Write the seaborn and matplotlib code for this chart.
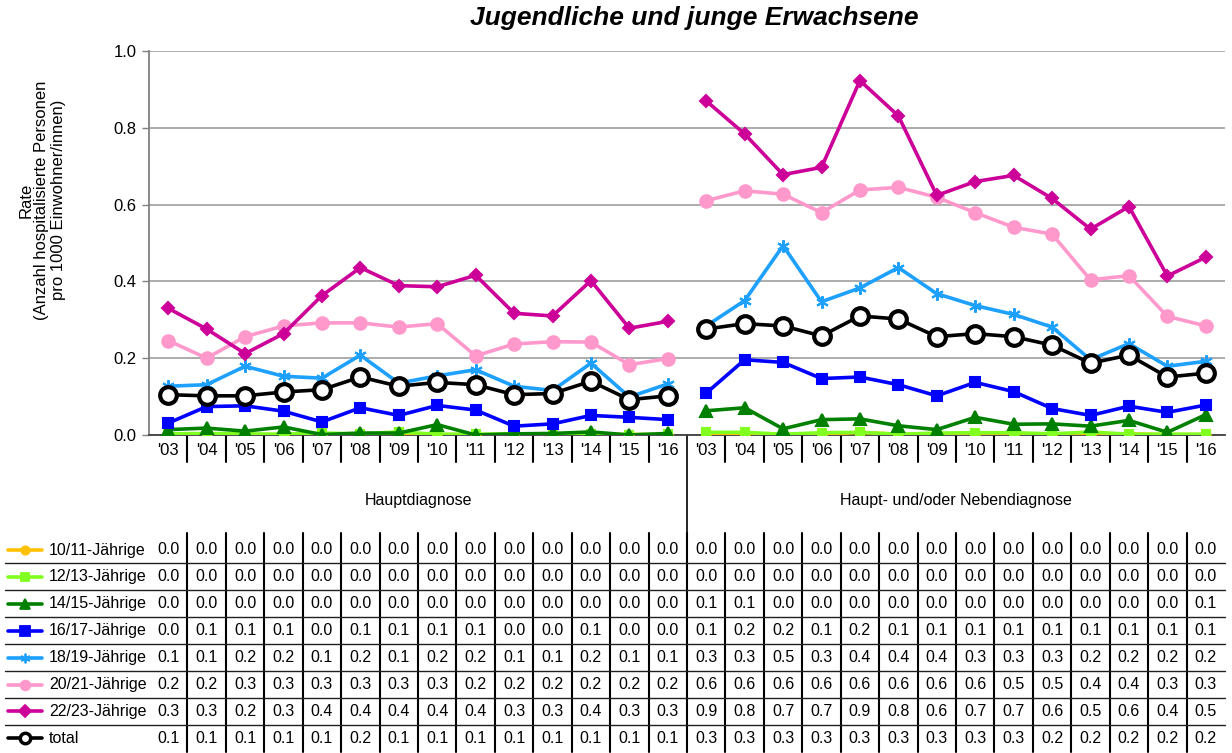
import numpy as np
import pandas as pd
import seaborn as sns
import matplotlib.pyplot as plt
from matplotlib import transforms
from matplotlib.lines import Line2D

# -------------------------
# Data
# -------------------------
years = ["'03", "'04", "'05", "'06", "'07", "'08", "'09", "'10", "'11", "'12", "'13", "'14", "'15", "'16"]
groups = ["Hauptdiagnose", "Haupt- und/oder Nebendiagnose"]
series = ["10/11-Jährige", "12/13-Jährige", "14/15-Jährige", "16/17-Jährige",
          "18/19-Jährige", "20/21-Jährige", "22/23-Jährige", "total"]

# first 14 values: Hauptdiagnose, last 14: Haupt- und/oder Nebendiagnose
age_10_11 = [0.001, 0.002, 0.001, 0.001, 0.002, 0.002, 0.001, 0.001, 0.001, 0.001, 0.001, 0.001, 0.001, 0.001,
             0.003, 0.002, 0.001, 0.001, 0.007, 0.002, 0.001, 0.002, 0.002, 0.002, 0.001, 0.003, 0.001, 0.001]
age_12_13 = [0.003, 0.004, 0.003, 0.002, 0.005, 0.003, 0.008, 0.002, 0.002, 0.003, 0.002, 0.003, 0.001, 0.002,
             0.007, 0.007, 0.002, 0.006, 0.007, 0.002, 0.005, 0.006, 0.006, 0.003, 0.008, 0.002, 0.002, 0.002]
age_14_15 = [0.014, 0.018, 0.010, 0.021, 0.001, 0.005, 0.005, 0.027, 0.000, 0.003, 0.004, 0.008, 0.000, 0.004,
             0.063, 0.071, 0.016, 0.040, 0.042, 0.024, 0.014, 0.046, 0.028, 0.029, 0.023, 0.038, 0.007, 0.053]
age_16_17 = [0.031, 0.074, 0.076, 0.062, 0.034, 0.071, 0.051, 0.077, 0.065, 0.023, 0.029, 0.051, 0.046, 0.040,
             0.109, 0.196, 0.189, 0.147, 0.151, 0.131, 0.102, 0.137, 0.113, 0.069, 0.051, 0.075, 0.059, 0.078]
age_18_19 = [0.127, 0.131, 0.179, 0.153, 0.148, 0.208, 0.135, 0.154, 0.170, 0.127, 0.116, 0.187, 0.099, 0.133,
             0.284, 0.350, 0.493, 0.347, 0.383, 0.436, 0.368, 0.337, 0.314, 0.281, 0.196, 0.238, 0.179, 0.192]
age_20_21 = [0.246, 0.200, 0.256, 0.284, 0.292, 0.292, 0.281, 0.290, 0.206, 0.237, 0.243, 0.242, 0.183, 0.199,
             0.610, 0.636, 0.627, 0.579, 0.638, 0.645, 0.619, 0.579, 0.541, 0.523, 0.404, 0.415, 0.309, 0.284]
age_22_23 = [0.330, 0.276, 0.212, 0.264, 0.363, 0.436, 0.389, 0.386, 0.416, 0.317, 0.310, 0.402, 0.278, 0.296,
             0.870, 0.784, 0.678, 0.697, 0.923, 0.831, 0.624, 0.660, 0.676, 0.616, 0.536, 0.595, 0.414, 0.463]
total = [0.105, 0.102, 0.102, 0.112, 0.118, 0.151, 0.127, 0.137, 0.131, 0.105, 0.108, 0.140, 0.092, 0.102,
         0.276, 0.290, 0.284, 0.258, 0.310, 0.302, 0.256, 0.264, 0.256, 0.234, 0.187, 0.208, 0.151, 0.161]

all_values = [age_10_11, age_12_13, age_14_15, age_16_17, age_18_19, age_20_21, age_22_23, total]

# styles per series
colors = ["#FFC000", "#80FF20", "#008000", "#0000FF", "#1EA0FF", "#FF99CC", "#CC0099", "#000000"]
markers = ["o", "s", "^", "s", (6, 2, 0), "o", "D", "o"]
msizes = [6, 6, 8, 6.5, 9, 9, 6.5, 12]

# long table
rows = []
for name, vals in zip(series, all_values):
    for i, v in enumerate(vals):
        rows.append({"serie": name, "pos": i, "gruppe": groups[i // len(years)], "rate": v})
df = pd.DataFrame(rows)

# -------------------------
# Figure
# -------------------------
sns.set_theme(style="white")
plt.rcParams['font.family'] = ['Liberation Sans', 'DejaVu Sans']
plt.rcParams['text.color'] = 'black'
plt.rcParams['xtick.color'] = 'black'
plt.rcParams['ytick.color'] = 'black'

FS = 11.5  # body font size

W, H = 1232, 753
fig = plt.figure(figsize=(W / 100, H / 100), dpi=100)
ax = fig.add_axes([149 / W, 1 - 435 / H, 1076 / W, 384 / H])

for k, name in enumerate(series):
    for g in groups:
        sub = df[(df["serie"] == name) & (df["gruppe"] == g)]
        if name == "total":
            sns.lineplot(data=sub, x="pos", y="rate", ax=ax, color="black", lw=2.6,
                         marker="o", markersize=msizes[k], markerfacecolor="white",
                         markeredgecolor="black", markeredgewidth=3, zorder=10 + k)
        else:
            sns.lineplot(data=sub, x="pos", y="rate", ax=ax, color=colors[k], lw=2.6,
                         marker=markers[k], markersize=msizes[k], markerfacecolor=colors[k],
                         markeredgecolor=colors[k], markeredgewidth=1.5, zorder=10 + k)

n = len(years) * len(groups)
ax.set_xlim(-0.5, n - 0.5)
ax.set_ylim(0, 1.0)
ax.set_yticks(np.arange(0, 1.01, 0.2))
ax.set_yticklabels([f"{t:.1f}" for t in np.arange(0, 1.01, 0.2)], fontsize=FS + 0.5)
ax.set_xticks(range(n))
ax.set_xticklabels(years * len(groups), fontsize=FS + 0.5)
ax.tick_params(axis="x", length=0, pad=6, colors="black")
ax.tick_params(axis="y", length=5, color="#808080", labelcolor="black", width=1, pad=4, left=True)
ax.yaxis.grid(True, color="#A6A6A6", lw=1.3)
ax.set_axisbelow(True)
ax.set_xlabel("")
ax.set_ylabel("")
for s in ["top", "right"]:
    ax.spines[s].set_visible(False)
ax.spines["left"].set_color("#808080")
ax.spines["bottom"].set_color("#404040")
ax.spines["left"].set_linewidth(1.3)
ax.spines["bottom"].set_linewidth(1.3)

# category separators below the axis
tr_ax = transforms.blended_transform_factory(ax.transData, ax.transAxes)
tr_fig = transforms.blended_transform_factory(ax.transData, fig.transFigure)
for i in range(n - 1):
    if (i + 1) % len(years) == 0:
        continue
    ax.add_line(Line2D([i + 0.5, i + 0.5], [0, -27 / 384], transform=tr_ax,
                       color="black", lw=1.5, clip_on=False))
# group separator
for gi in range(1, len(groups)):
    xb = gi * len(years) - 0.5
    ax.add_line(Line2D([xb, xb], [1 - 435 / H, 1 - 752 / H], transform=tr_fig,
                       color="black", lw=1.2, clip_on=False))

# group labels
for gi, g in enumerate(groups):
    xc = gi * len(years) + (len(years) - 1) / 2
    ax.text(xc, 1 - 501 / H, g, transform=tr_fig, ha="center", va="center", fontsize=FS)

# title and y label
fig.text(694 / W, 1 - 18 / H, "Jugendliche und junge Erwachsene", ha="center", va="center",
         fontsize=19, fontweight="bold", fontstyle="italic", color="black")
fig.text(42 / W, 1 - 200 / H, "Rate\n(Anzahl hospitalisierte Personen\npro 1000 Einwohner/innen)",
         rotation=90, ha="center", va="center", multialignment="center", fontsize=12, linespacing=1.1)

# -------------------------
# Data table
# -------------------------
row_h = 26.9
row0 = 550
for k, (name, vals) in enumerate(zip(series, all_values)):
    yc = 1 - (row0 + k * row_h) / H
    for i, v in enumerate(vals):
        ax.text(i, yc, f"{v:.1f}", transform=tr_fig, ha="center", va="center", fontsize=FS)
    fig.text(49 / W, yc, name, ha="left", va="center", fontsize=FS)
    # legend key
    if name == "total":
        key = Line2D([8 / W, 25 / W, 42 / W], [yc, yc, yc], transform=fig.transFigure, color="black",
                     lw=2.6, marker="o", markevery=[1], markersize=7.5, markerfacecolor="white",
                     markeredgecolor="black", markeredgewidth=2.5)
    else:
        key = Line2D([8 / W, 25 / W, 42 / W], [yc, yc, yc], transform=fig.transFigure, color=colors[k],
                     lw=2.6, marker=markers[k], markevery=[1], markersize=min(msizes[k], 7),
                     markerfacecolor=colors[k], markeredgecolor=colors[k], markeredgewidth=1.3)
    fig.add_artist(key)
    if k < len(series) - 1:
        yl = 1 - (row0 + (k + 0.5) * row_h) / H
        fig.add_artist(Line2D([5 / W, 1225 / W], [yl, yl], transform=fig.transFigure,
                              color="#202020", lw=1.0))

for i in range(n - 1):
    ax.add_line(Line2D([i + 0.5, i + 0.5], [1 - 533 / H, 1 - 752 / H], transform=tr_fig,
                       color="black", lw=1.5, clip_on=False))

fig.savefig("out.png", dpi=100)
